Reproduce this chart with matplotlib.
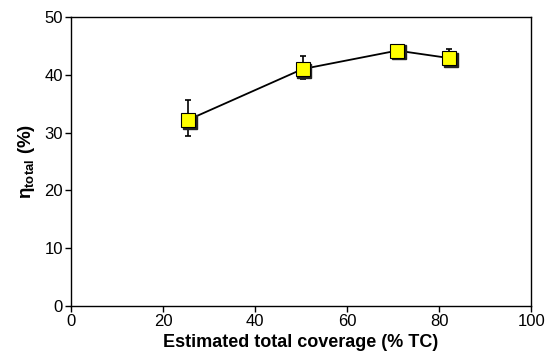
import matplotlib
matplotlib.use('Agg')
import matplotlib.pyplot as plt
import matplotlib.transforms as mtransforms

# データ
coverage = [25.4, 50.3, 70.9, 82.2]
eta_total = [32.2, 41.0, 44.2, 42.9]
err_low = [2.8, 1.7, 0.4, 0.4]
err_high = [3.4, 2.2, 0.4, 1.5]

plt.rcParams['font.family'] = ['Liberation Sans', 'DejaVu Sans']
plt.rcParams['mathtext.fontset'] = 'custom'
plt.rcParams['mathtext.bf'] = 'Liberation Sans:bold'
plt.rcParams['mathtext.rm'] = 'Liberation Sans'

fig = plt.figure(figsize=(5.47, 3.63), dpi=100)
ax = fig.add_axes([0.13, 0.157, 0.841, 0.796])

# 線と誤差棒
ax.errorbar(coverage, eta_total, yerr=[err_low, err_high], color='black',
            lw=1.3, elinewidth=1.2, capsize=2.5, capthick=1.2, zorder=2)

# マーカーの影
shadow = mtransforms.offset_copy(ax.transData, fig=fig, x=1.2, y=-1.2, units='points')
ax.plot(coverage, eta_total, 's', ms=10, color='#222222', mec='#222222',
        transform=shadow, zorder=3)
ax.plot(coverage, eta_total, 's', ms=10, color='#ffff00', mec='black',
        mew=0.8, zorder=4)

ax.set_xlim(0, 100)
ax.set_ylim(0, 50)
ax.set_xticks([0, 20, 40, 60, 80, 100])
ax.set_yticks([0, 10, 20, 30, 40, 50])
ax.tick_params(direction='out', length=4, width=1, labelsize=12, pad=2,
               top=False, right=False)
for s in ax.spines.values():
    s.set_linewidth(1)

ax.set_xlabel('Estimated total coverage (% TC)', fontsize=13, fontweight='bold', labelpad=3)
ax.set_ylabel(r'$\mathbf{\eta_{total}}$ (%)', fontsize=13.5, fontweight='bold', labelpad=5)

fig.savefig('out.png', dpi=100)
